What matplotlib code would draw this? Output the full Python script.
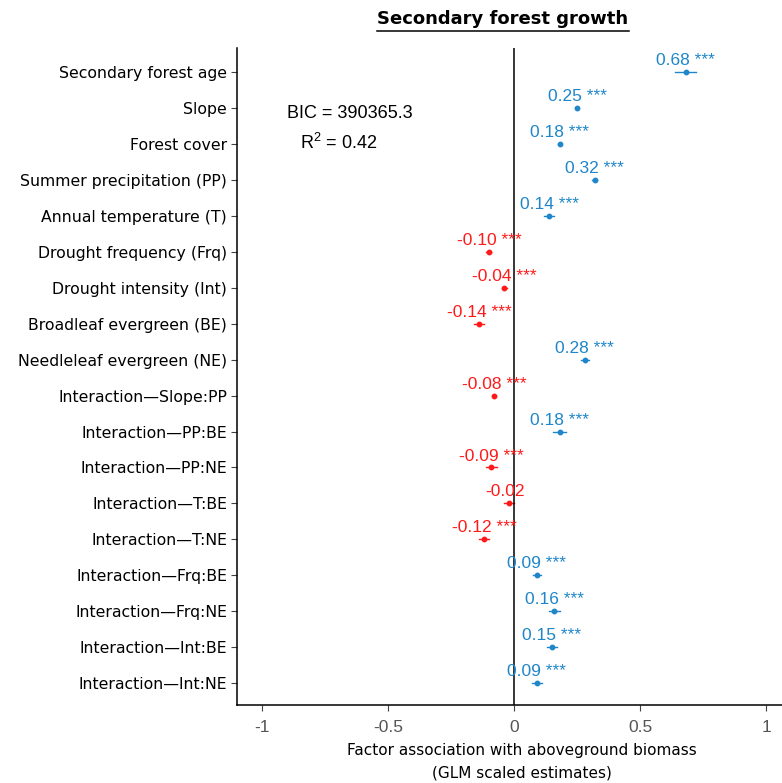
import matplotlib
matplotlib.use('Agg')
from matplotlib import pyplot as plt
from matplotlib.lines import Line2D

factors = ['Secondary forest age', 'Slope', 'Forest cover', 'Summer precipitation (PP)',
           'Annual temperature (T)', 'Drought frequency (Frq)', 'Drought intensity (Int)',
           'Broadleaf evergreen (BE)', 'Needleleaf evergreen (NE)',
           'Interaction\u2014Slope:PP', 'Interaction\u2014PP:BE', 'Interaction\u2014PP:NE',
           'Interaction\u2014T:BE', 'Interaction\u2014T:NE', 'Interaction\u2014Frq:BE',
           'Interaction\u2014Frq:NE', 'Interaction\u2014Int:BE', 'Interaction\u2014Int:NE']
estimates = [0.68, 0.25, 0.18, 0.32, 0.14, -0.10, -0.04, -0.14, 0.28,
             -0.08, 0.18, -0.09, -0.02, -0.12, 0.09, 0.16, 0.15, 0.09]
errors = [0.04, 0.005, 0.005, 0.01, 0.02, 0.01, 0.01, 0.02, 0.015,
          0.005, 0.025, 0.02, 0.02, 0.02, 0.015, 0.02, 0.02, 0.02]
signif = ['***'] * 12 + [''] + ['***'] * 5
bic_text = 'BIC = 390365.3'
r2_text = 'R$^2$ = 0.42'

BLUE = '#1f86c9'
RED = '#ff1a1a'

plt.rcParams['mathtext.fontset'] = 'custom'
plt.rcParams['mathtext.rm'] = 'Liberation Sans'

fig = plt.figure(figsize=(7.82, 7.83), dpi=100)
ax = fig.add_axes([0.303, 0.0996, 0.70, 0.839])

ys = list(range(len(factors)))
for y, est, err, sig in zip(ys, estimates, errors, signif):
    c = BLUE if est > 0 else RED
    ax.plot([est - err, est + err], [y, y], color=c, lw=1.0)
    ax.plot(est, y, 'o', color=c, ms=3.2)
    if sig:
        txt = '%.2f %s' % (est, sig)
        dx = 0
    else:
        txt = '%.2f' % est
        dx = -3
    ax.annotate(txt, (est, y), xytext=(dx, 5), textcoords='offset points',
                ha='center', va='baseline', color=c, fontsize=12.5,
                family='Liberation Sans')

ax.axvline(0, color='black', lw=1.1)

ax.set_xlim(-1.1, 1.072)
ax.set_ylim(17.61, -0.67)
ax.set_yticks(ys)
ax.set_yticklabels(factors, fontsize=11.3, family='DejaVu Sans')
ax.set_xticks([-1, -0.5, 0, 0.5, 1])
ax.set_xticklabels(['-1', '-0.5', '0', '0.5', '1'], fontsize=12.5,
                   family='Liberation Sans', color='#555555')
ax.tick_params(axis='y', length=4, color='#444444', width=0.8, pad=3)
ax.tick_params(axis='x', length=4, color='#444444', width=0.8, pad=7)
for s in ['top', 'right']:
    ax.spines[s].set_visible(False)
for s in ['left', 'bottom']:
    ax.spines[s].set_color('black')
    ax.spines[s].set_linewidth(1.1)

ax.set_xlabel('Factor association with aboveground biomass\n(GLM scaled estimates)',
              fontsize=11, family='DejaVu Sans', linespacing=1.6)
ax.xaxis.set_label_coords(0.52, -0.058, transform=ax.transAxes)
ax.xaxis.label.set_verticalalignment('top')

fig.text(287 / 782, 1 - 114 / 783, bic_text, fontsize=13, family='Liberation Sans',
         va='center', ha='left')
fig.text(300 / 782, 1 - 143 / 783, r2_text, fontsize=13, family='Liberation Sans',
         va='center', ha='left')

title = fig.text(503 / 782, 1 - 19 / 783, 'Secondary forest growth', fontsize=13,
                 fontweight='bold', family='DejaVu Sans', ha='center', va='center')
fig.canvas.draw()
bb = title.get_window_extent().transformed(fig.transFigure.inverted())
fig.lines.append(Line2D([bb.x0, bb.x1], [1 - 31 / 783] * 2, color='black', lw=1.1,
                        transform=fig.transFigure))

fig.savefig('out.png', dpi=100)
